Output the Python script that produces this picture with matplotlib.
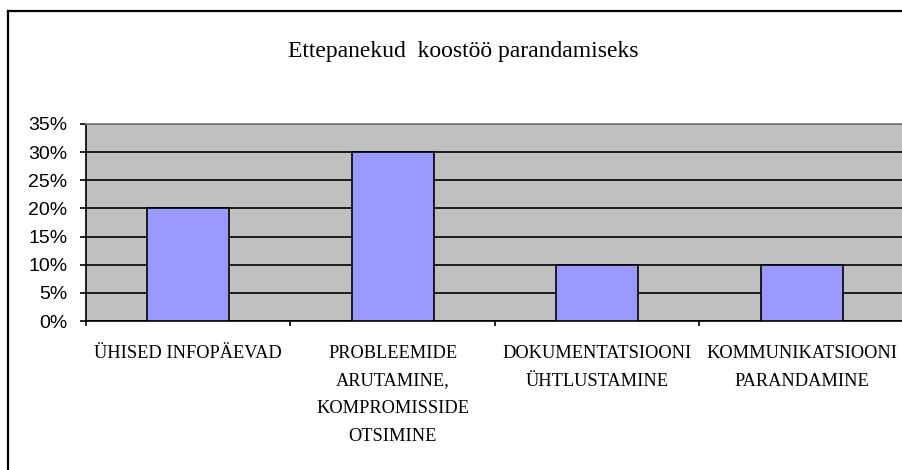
import matplotlib.pyplot as plt
from matplotlib.lines import Line2D
from matplotlib.ticker import PercentFormatter

# -----------------
# DATA
# -----------------
categories = [
    "ÜHISED INFOPÄEVAD",
    "PROBLEEMIDE\nARUTAMINE,\nKOMPROMISSIDE\nOTSIMINE",
    "DOKUMENTATSIOONI\nÜHTLUSTAMINE",
    "KOMMUNIKATSIOONI\nPARANDAMINE",
]
values = [20, 30, 10, 10]
yticks = [0, 5, 10, 15, 20, 25, 30, 35]
title = "Ettepanekud  koostöö parandamiseks"

W, H = 903, 470
fig = plt.figure(figsize=(W / 100, H / 100), dpi=100)

# plot area in pixel coords: left 86, right 904, top 124, bottom 321
ax = fig.add_axes([86 / W, (H - 321) / H, (904 - 86) / W, (321 - 124) / H])
ax.set_facecolor("#C0C0C0")

x = range(len(values))
ax.bar(x, values, width=0.4, color="#9999FF", edgecolor="black", linewidth=1.2, zorder=3)

ax.set_xlim(-0.5, len(values) - 0.5)
ax.set_ylim(0, 35)
ax.set_yticks(yticks)
ax.yaxis.set_major_formatter(PercentFormatter(decimals=0))
ax.grid(axis="y", color="black", linewidth=1.2, zorder=1)
ax.set_axisbelow(True)

# x ticks at category boundaries, labels at centres
ax.set_xticks([i - 0.5 for i in range(len(values) + 1)])
ax.set_xticklabels([])
ax.set_xticks(list(x), minor=True)
ax.set_xticklabels(categories, minor=True, family="Liberation Serif",
                   fontsize=13.2, linespacing=1.84, va="top")
ax.tick_params(axis="x", which="minor", length=0, pad=17)
ax.tick_params(axis="x", which="major", length=3.6, width=1.2, direction="out")
ax.tick_params(axis="y", length=4.3, width=1.2, direction="out", pad=9)
for lab in ax.get_yticklabels():
    lab.set_family("Liberation Sans")
    lab.set_fontsize(14)

for side in ["left", "bottom"]:
    ax.spines[side].set_color("black")
    ax.spines[side].set_linewidth(1.2)
ax.spines["top"].set_color("#808080")
ax.spines["top"].set_linewidth(1.2)
ax.spines["right"].set_visible(False)

fig.text(463 / W, 1 - 57 / H, title, ha="center", va="baseline",
         family="Liberation Serif", fontsize=17)

# outer chart border (cropped at right and bottom)
fig.add_artist(Line2D([8 / W, 8 / W], [0, 1 - 11 / H], transform=fig.transFigure,
                      color="black", linewidth=1.6))
fig.add_artist(Line2D([8 / W, 1], [1 - 11 / H, 1 - 11 / H], transform=fig.transFigure,
                      color="black", linewidth=1.6))

fig.savefig("out.png", dpi=100)
